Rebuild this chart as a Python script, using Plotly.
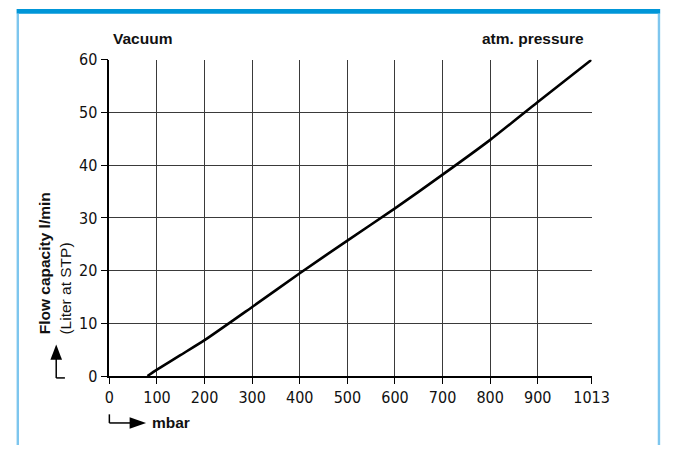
import plotly.graph_objects as go

# Data
pressure_mbar = [80, 100, 150, 200, 300, 400, 500, 600, 700, 800, 900, 1013]
flow_lpm = [0, 1.2, 4.0, 6.8, 13.1, 19.5, 25.7, 31.8, 38.2, 44.8, 52.0, 60.0]
x_ticks = [0, 100, 200, 300, 400, 500, 600, 700, 800, 900, 1013]
x_tick_labels = ["0", "100", "200", "300", "400", "500", "600", "700", "800", "900", "1013"]
y_ticks = [0, 10, 20, 30, 40, 50, 60]

W, H = 683, 455


def px(x):
    return x / W


def py(y):
    return 1 - y / H


TICKFONT = dict(family="Liberation Sans Narrow, DejaVu Sans Condensed, Arial Narrow, sans-serif", size=16, color="#111")
LABELFONT = "Liberation Sans, Arial, sans-serif"

fig = go.Figure()
fig.add_trace(go.Scatter(
    x=pressure_mbar, y=flow_lpm, mode="lines",
    line=dict(color="black", width=2.6, shape="spline", smoothing=0.6),
    hoverinfo="skip", showlegend=False, cliponaxis=False,
))

fig.update_layout(
    width=W, height=H,
    margin=dict(l=0, r=0, t=0, b=0),
    paper_bgcolor="white", plot_bgcolor="white",
    xaxis=dict(
        domain=[px(108), px(607)], range=[0, 1013],
        tickvals=x_ticks, ticktext=x_tick_labels,
        ticks="outside", ticklen=6, tickcolor="black", tickwidth=1,
        showgrid=True, gridcolor="#3a3a3a", gridwidth=1,
        showline=True, linecolor="black", linewidth=1.5,
        zeroline=False, tickfont=TICKFONT, fixedrange=True,
    ),
    yaxis=dict(
        domain=[py(383), py(53)], range=[0, 60],
        tickvals=y_ticks,
        ticks="outside", ticklen=7, tickcolor="black", tickwidth=1,
        showgrid=True, gridcolor="#3a3a3a", gridwidth=1,
        showline=True, linecolor="black", linewidth=1.5,
        zeroline=False, tickfont=TICKFONT, fixedrange=True,
    ),
)

shapes = [
    # blue frame
    dict(type="rect", xref="paper", yref="paper", x0=px(12), x1=px(678), y0=py(0), y1=py(5),
         fillcolor="#0096D8", line=dict(width=0), layer="above"),
    dict(type="rect", xref="paper", yref="paper", x0=px(12), x1=px(14.5), y0=py(5), y1=py(455),
         fillcolor="#7EC6EE", line=dict(width=0), layer="above"),
    dict(type="rect", xref="paper", yref="paper", x0=px(675.5), x1=px(678), y0=py(5), y1=py(455),
         fillcolor="#7EC6EE", line=dict(width=0), layer="above"),
    # y-axis arrow foot
    dict(type="line", xref="paper", yref="paper", x0=px(53), x1=px(53), y0=py(385), y1=py(362),
         line=dict(color="black", width=1.5)),
    dict(type="line", xref="paper", yref="paper", x0=px(53), x1=px(62), y0=py(385), y1=py(385),
         line=dict(color="black", width=1.5)),
    dict(type="path", xref="paper", yref="paper",
         path=f"M {px(47)} {py(366)} L {px(59)} {py(366)} L {px(53)} {py(350)} Z",
         fillcolor="black", line=dict(width=0)),
    # x-axis arrow
    dict(type="line", xref="paper", yref="paper", x0=px(108), x1=px(108), y0=py(423), y1=py(432),
         line=dict(color="black", width=1.5)),
    dict(type="line", xref="paper", yref="paper", x0=px(108), x1=px(130), y0=py(432), y1=py(432),
         line=dict(color="black", width=1.5)),
    dict(type="path", xref="paper", yref="paper",
         path=f"M {px(129)} {py(426)} L {px(129)} {py(438)} L {px(146)} {py(432)} Z",
         fillcolor="black", line=dict(width=0)),
]
fig.update_layout(shapes=shapes)

annotations = [
    dict(text="<b>Vacuum</b>", x=px(110), y=py(31), xanchor="left", yanchor="middle",
         font=dict(family=LABELFONT, size=15.5, color="#111")),
    dict(text="<b>atm. pressure</b>", x=px(601), y=py(31), xanchor="right", yanchor="middle",
         font=dict(family=LABELFONT, size=15.5, color="#111")),
    dict(text="<b>Flow capacity l/min</b>", x=px(41), y=py(342), xanchor="center", yanchor="bottom",
         textangle=-90, font=dict(family=LABELFONT, size=15.5, color="#111")),
    dict(text="(Liter at STP)", x=px(63), y=py(342), xanchor="center", yanchor="bottom",
         textangle=-90, font=dict(family=LABELFONT, size=15.5, color="#111")),
    dict(text="<b>mbar</b>", x=px(150), y=py(431), xanchor="left", yanchor="middle",
         font=dict(family=LABELFONT, size=15.5, color="#111")),
]
for a in annotations:
    a.update(xref="paper", yref="paper", showarrow=False)
fig.update_layout(annotations=annotations)

POST = (
    "document.documentElement.style.margin='0';"
    "document.documentElement.style.padding='0';"
    "document.documentElement.style.overflow='hidden';"
    "document.body.style.margin='0';"
    "document.body.style.padding='0';"
    "document.body.style.overflow='hidden';"
    "var gd=document.getElementById('{plot_id}');"
    "gd.style.position='fixed';gd.style.left='0px';gd.style.top='0px';"
)

fig.write_html("out.html", config={"displayModeBar": False}, post_script=POST)
